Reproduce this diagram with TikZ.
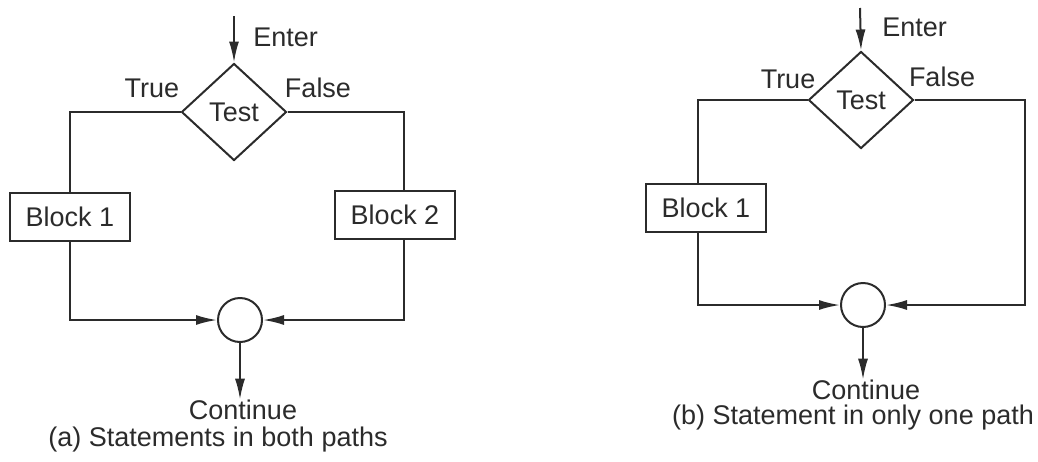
\documentclass[tikz,border=0pt]{standalone}
\usepackage{fontspec}
\setmainfont{Liberation Sans}
\usetikzlibrary{shapes.geometric,arrows.meta}
\definecolor{ink}{HTML}{2B2B2B}
\tikzset{
  flow/.style={draw=ink, line width=1pt},
  arr/.style={flow, -{Latex[length=10.5pt,width=5pt]}},
  testbox/.style={diamond, draw=ink, line width=1pt, inner sep=0pt,
    minimum width=52.5pt, minimum height=48.5pt, text=ink},
  blockbox/.style={rectangle, draw=ink, line width=1pt, inner sep=0pt,
    minimum width=60pt, minimum height=24pt, text=ink},
  joinpt/.style={circle, draw=ink, line width=1pt, inner sep=0pt, minimum size=22pt},
  lbl/.style={text=ink, inner sep=0pt}
}
\begin{document}
\begin{tikzpicture}[x=0.5pt, y=-0.5pt, font=\fontsize{13.5}{16}\selectfont]
\useasboundingbox (0,0) rectangle (1038,461);

% ---------- (a) statements in both paths ----------
\node[testbox] (ta) at (234,112) {Test};
\coordinate (ea) at (234,16);
\draw[arr] (ea) -- (ta.north);
\node[lbl, anchor=west] (enta) at (253,37) {Enter};
\node[lbl] (truea) at (152,88) {True};
\node[lbl] (falsea) at (318,88) {False};

\node[blockbox] (b1a) at (70,217) {Block 1};
\node[blockbox] (b2a) at (395,215) {Block 2};
\node[joinpt] (ja) at (240,320) {};
\node[lbl] (conta) at (243,410) {Continue};
\node[lbl] (capa) at (218,440) {(a) Statements in both paths};

\draw[flow] (ta.west) -| (b1a.north);
\draw[flow] (ta.east) -| (404,0 |- b2a.north);
\draw[arr] (b1a.south) |- (ja.west);
\draw[arr] (404,0 |- b2a.south) |- (ja.east);
\draw[arr] (ja.south) -- (ja.south |- conta.north);

% ---------- (b) statement in only one path ----------
\node[testbox] (tb) at (861,100) {Test};
\coordinate (eb) at (860,8);
\draw[arr] (eb) -- (tb.north);
\node[lbl, anchor=west] (entb) at (882,27) {Enter};
\node[lbl] (trueb) at (788,79) {True};
\node[lbl] (falseb) at (942,77) {False};

\node[blockbox] (b1b) at (706,208) {Block 1};
\node[joinpt] (jb) at (863,305) {};
\node[lbl] (contb) at (866,390) {Continue};
\node[lbl] (capb) at (853,418) {(b) Statement in only one path};

\draw[flow] (tb.west) -| (698,0 |- b1b.north);
\draw[arr] (698,0 |- b1b.south) |- (jb.west);
\draw[arr] (tb.east) -| (1025,0 |- jb.east) -- (jb.east);
\draw[arr] (jb.south) -- (jb.south |- contb.north);
\end{tikzpicture}
\end{document}
